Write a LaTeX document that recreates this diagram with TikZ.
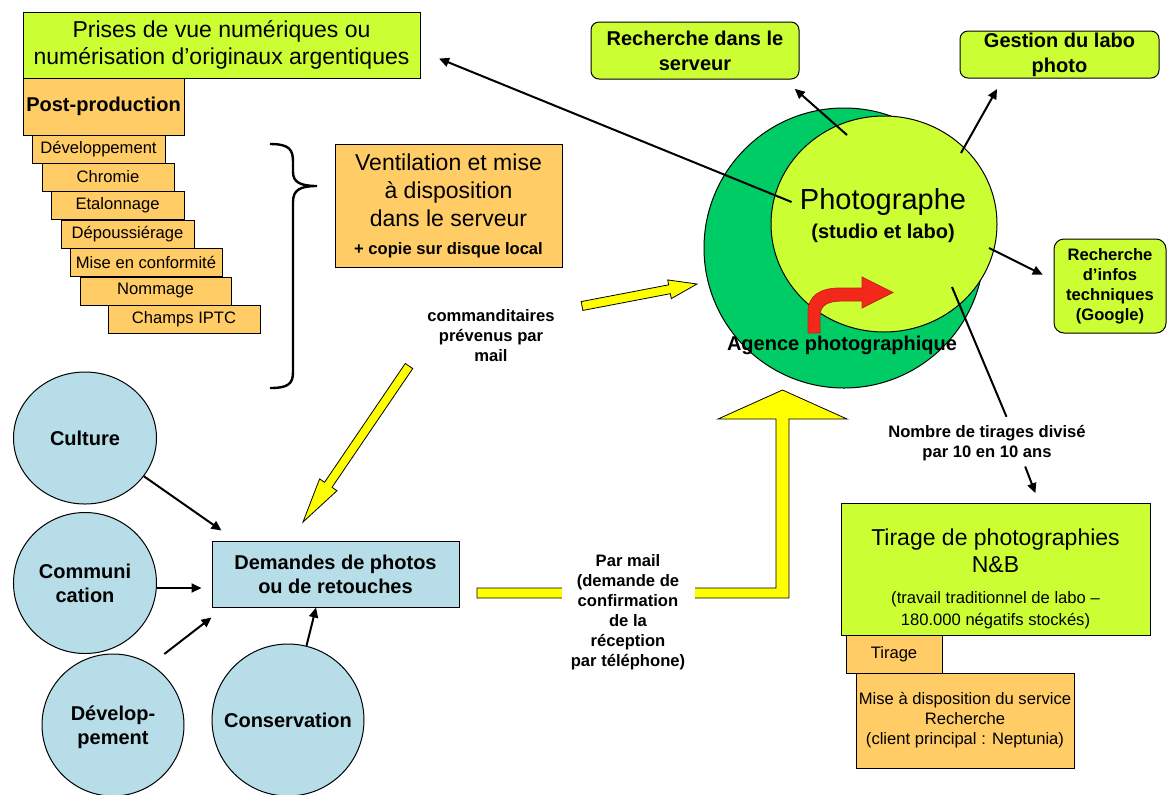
\documentclass[tikz,border=0pt]{standalone}
\usepackage{fontspec}
\setmainfont{Liberation Sans}
\usepackage{tikz}
\usetikzlibrary{positioning,arrows.meta,calc,shapes.geometric}

\definecolor{lime}{HTML}{CCFF33}
\definecolor{orangebox}{HTML}{FFCC66}
\definecolor{agencegreen}{HTML}{00CC66}
\definecolor{paleblue}{HTML}{B7DEE8}
\definecolor{yellowarrow}{HTML}{FFFF00}
\definecolor{redarrow}{HTML}{F2281A}

\newcommand{\fsmall}{\fontsize{8.3}{10}\selectfont}
\newcommand{\fmed}{\fontsize{10}{12}\selectfont}
\newcommand{\fbig}{\fontsize{11.5}{13.7}\selectfont}

% tail, tip, half shaft, half head, head length
\newcommand{\fatarrow}[5]{%
  \coordinate (fa-b) at ($(#2)!#5!(#1)$);
  \filldraw[yarrow] ($(#1)!#3!90:(#2)$) -- ($(fa-b)!#3!90:(#2)$) -- ($(fa-b)!#4!90:(#2)$) -- (#2)
    -- ($(fa-b)!#4!-90:(#2)$) -- ($(fa-b)!#3!-90:(#2)$) -- ($(#1)!#3!-90:(#2)$) -- cycle;
}

\begin{document}
\begin{tikzpicture}[x=0.5pt,y=-0.5pt,
  every node/.style={inner sep=0pt,align=center},
  greenbox/.style={draw=black,fill=lime,line width=0.5pt},
  roundbox/.style={greenbox,rounded corners=4pt},
  postbox/.style={draw=black,fill=orangebox,line width=0.5pt},
  stepbox/.style={postbox,minimum height=14pt,font=\fsmall},
  bluecircle/.style={ellipse,draw=black,fill=paleblue,line width=0.5pt},
  circletext/.style={font=\fmed\bfseries},
  arr/.style={-{Triangle[length=5pt,width=4.5pt]},line width=1pt},
  yarrow/.style={fill=yellowarrow,draw=black,line width=0.4pt}]

	\useasboundingbox (0,0) rectangle (1167,794);

	%post-production
	\node[greenbox,minimum width=198.5pt,minimum height=33pt,font=\fontsize{11.5}{13.5}\selectfont] (prises) at (221.5,45) {Prises de vue numériques ou\\numérisation d’originaux argentiques};
	\node[postbox,minimum width=80.5pt,minimum height=28.5pt,font=\fmed\bfseries] (postprod) at (103.5,106.5) {Post-production};
	\node[stepbox,minimum width=66.5pt] (s1) at (98.5,149) {Développement};
	\node[stepbox,minimum width=66pt] (s2) at (108,177) {Chromie};
	\node[stepbox,minimum width=66.5pt] (s3) at (117.5,205.5) {Etalonnage};
	\node[stepbox,minimum width=66.5pt] (s4) at (127.5,234) {Dépoussiérage};
	\node[stepbox,minimum width=76pt] (s5) at (146,262.5) {Mise en conformité};
	\node[stepbox,minimum width=75.5pt] (s6) at (155.5,291) {Nommage};
	\node[stepbox,minimum width=76pt] (s7) at (184,319) {Champs IPTC};

	%brace
	\draw[line width=1.2pt] (270,144) .. controls (290,144) and (293,150) .. (293,162) -- (293,172)
		.. controls (293,182) and (300,186) .. (317,186) .. controls (300,186) and (293,190) .. (293,202)
		-- (293,372) .. controls (293,384) and (288,388) .. (270,388);

	\node[postbox,minimum width=113.5pt,minimum height=61.5pt,font=\fontsize{11.5}{14}\selectfont] (vent) at (448.5,205.5) {Ventilation et mise\\à disposition\\dans le serveur\\{\fsmall\bfseries + copie sur disque local}};

	%agence
	\node[ellipse,draw=black,fill=agencegreen,line width=0.5pt,minimum width=140pt,minimum height=140pt] (agence) at (844,248) {};
	\node[ellipse,draw=black,fill=lime,line width=0.5pt,minimum width=113pt,minimum height=108pt] (studio) at (884,224) {};
	\node[inner xsep=4pt,font=\fontsize{14.5}{17}\selectfont] (photo) at (883,202) {Photographe};
	\node[font=\fmed\bfseries] (studiotxt) at (883,233) {(studio et labo)};

	%right boxes
	\node[roundbox,minimum width=104pt,minimum height=28.5pt,font=\fontsize{10}{12.5}\selectfont\bfseries] (rech) at (695,50.5) {Recherche dans le\\serveur};
	\node[roundbox,minimum width=99.5pt,minimum height=23.5pt,font=\fontsize{10}{12.5}\selectfont\bfseries] (gest) at (1059.5,54.5) {Gestion du labo\\photo};
	\node[greenbox,rounded corners=5pt,minimum width=56pt,minimum height=47pt,font=\fsmall\bfseries] (info) at (1110,286) {Recherche\\d’infos\\techniques\\(Google)};

	%edges from the photographer
	\coordinate (c-rech) at (847,135);
	\coordinate (c-gest) at (961,153);
	\coordinate (c-info) at (989,248);
	\coordinate (c-nombre) at (952,287);
	\draw[arr,shorten >=10pt] (photo.west) -- ([yshift=-3pt]prises.east);
	\draw[arr,shorten >=7pt] (c-rech) -- (rech.-18.5);
	\draw[arr,shorten >=6pt] (c-gest) -- (gest.-157);
	\draw[arr,shorten >=6pt] (c-info) -- (info.174);

	\filldraw[fill=redarrow,draw=redarrow!80!black,line width=0.4pt] (808,333) -- (808,312)
		.. controls (808,296) and (820,288) .. (840,288) -- (862,288) -- (862,277) -- (893,292.5)
		-- (862,308) -- (862,301) -- (842,301) .. controls (828,301) and (820,305) .. (820,316) -- (820,333) -- cycle;
	\node[font=\fmed\bfseries] (agtxt) at (842,345) {Agence photographique};

	%tirages
	\node[font=\fontsize{8.3}{9.7}\selectfont\bfseries] (nombre) at (987,443) {Nombre de tirages divisé\\par 10 en 10 ans};
	\node[greenbox,minimum width=154.5pt,minimum height=66pt] (tirage) at (995.5,569) {};
	\node[font=\fontsize{11.5}{13.5}\selectfont] (tiragetxt) at (995.5,550.5) {Tirage de photographies\\N\&B};
	\node[font=\fontsize{8.3}{11}\selectfont] (labotxt) at (995.5,610) {(travail traditionnel de labo –\\180.000 négatifs stockés)};
	\node[postbox,minimum width=48pt,minimum height=19pt,font=\fsmall] (tir) at (894,654) {Tirage};
	\node[postbox,minimum width=109pt,minimum height=47.5pt,font=\fsmall] (mise) at (965,720.5) {Mise à disposition du service\\Recherche\\(client principal : Neptunia)};
	\draw[line width=1pt,shorten >=4.5pt] (c-nombre) -- ([xshift=11.5pt]nombre.north);
	\draw[arr,shorten <=3pt,shorten >=5pt] ([xshift=18pt]nombre.south) -- ([xshift=21.75pt]tirage.north);

	%commanditaires
	\node[draw=black,fill=paleblue,line width=0.5pt,minimum width=123.5pt,minimum height=33pt,font=\fmed\bfseries] (dem) at (335.5,574) {Demandes de photos\\ou de retouches};
	\node[bluecircle,minimum width=71.5pt,minimum height=66pt] (cult) at (85,438) {};
	\node[bluecircle,minimum width=71.5pt,minimum height=70.5pt] (comm) at (85,583) {};
	\node[bluecircle,minimum width=71pt,minimum height=71pt] (dev) at (113,725) {};
	\node[bluecircle,minimum width=76pt,minimum height=76pt] (cons) at (288,720) {};
	\node[circletext] (culttxt) at (cult) {Culture};
	\node[circletext] (commtxt) at (comm) {Communi\\cation};
	\node[circletext] (devtxt) at (113,727) {Dévelop-\\pement};
	\node[circletext] (constxt) at (cons) {Conservation};
	\draw[arr] (cult.-33) -- ([shift={(5pt,5pt)}]dem.north west);
	\draw[arr] ([yshift=-2.5pt]comm.east) -- ([shift={(-5pt,-7pt)}]dem.west);
	\draw[arr,shorten <=8.5pt] (dev.58) -- ([yshift=-5pt]dem.south west);
	\draw[arr] (cons.76) -- ([xshift=-9.75pt]dem.south);

	%yellow arrows
	\coordinate (cmd-t) at (582,306);
	\coordinate (cmd-h) at (697,284);
	\fatarrow{cmd-t}{cmd-h}{2.25pt}{4.75pt}{14pt}
	\coordinate (dl-t) at (409,366);
	\coordinate (dl-h) at (303,522);
	\fatarrow{dl-t}{dl-h}{2.25pt}{5.25pt}{22.5pt}
	\node[font=\fsmall\bfseries] (cmd) at (491,336) {commanditaires\\prévenus par\\mail};

	\filldraw[yarrow] (477,588) -- (776,588) -- (776,419) -- (718,419) -- (782.5,390) -- (847,419)
		-- (789,419) -- (789,598) -- (477,598) -- cycle;
	\node[fill=white,minimum width=66.5pt,inner ysep=2pt,font=\fsmall\bfseries] (parmail) at (628,612) {Par mail\\(demande de\\confirmation\\de la\\réception\\par téléphone)};

\end{tikzpicture}
\end{document}
